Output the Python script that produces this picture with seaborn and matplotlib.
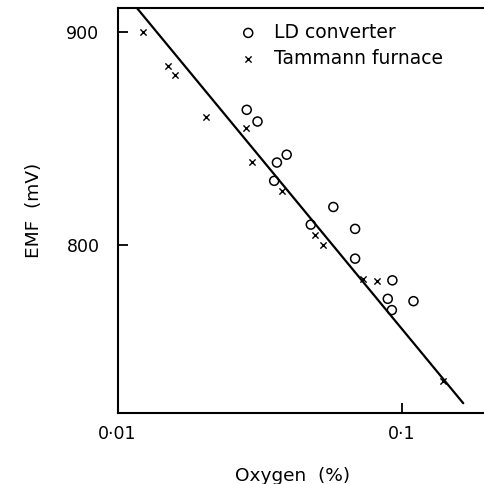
import numpy as np
import pandas as pd
import matplotlib
matplotlib.use('Agg')
import matplotlib.pyplot as plt
import matplotlib.ticker as mticker
import seaborn as sns

# LD converter (open circles)
ld_oxygen = [0.0285, 0.0311, 0.0364, 0.0394, 0.0356, 0.0575, 0.0479, 0.0686,
             0.0686, 0.0928, 0.0894, 0.1101, 0.0924]
ld_emf = [863.4, 857.9, 838.6, 842.3, 830.0, 817.7, 809.4, 807.4,
          793.4, 783.2, 774.5, 773.4, 769.2]

# Tammann furnace (crosses)
tf_oxygen = [0.0123, 0.0151, 0.0159, 0.0205, 0.0284, 0.0297, 0.0379, 0.0496,
             0.0530, 0.0734, 0.0818, 0.1396]
tf_emf = [900.0, 884.0, 879.8, 860.2, 854.8, 838.8, 825.0, 804.7,
          800.0, 784.0, 783.1, 735.8]

# fitted line end points
fit_oxygen = [0.0117, 0.1648]
fit_emf = [911.3, 725.4]

x_ticks = [0.01, 0.1]
x_ticklabels = ['0·01', '0·1']
y_ticks = [800, 900]

sns.set_style('ticks')
plt.rcParams['font.family'] = ['DejaVu Sans']
plt.rcParams.update({'text.color': 'black', 'axes.labelcolor': 'black',
                     'xtick.color': 'black', 'ytick.color': 'black',
                     'axes.edgecolor': 'black'})

ld = pd.DataFrame({'oxygen': ld_oxygen, 'emf': ld_emf})
tf = pd.DataFrame({'oxygen': tf_oxygen, 'emf': tf_emf})
fit = pd.DataFrame({'oxygen': fit_oxygen, 'emf': fit_emf})

fig = plt.figure(figsize=(4.84, 4.84), dpi=100)
ax = fig.add_axes([0.2428, 0.1467, 0.7572, 0.8368])

sns.lineplot(data=fit, x='oxygen', y='emf', color='black', linewidth=1.6, ax=ax)
sns.scatterplot(data=ld, x='oxygen', y='emf', marker='o', s=42,
                facecolor='none', edgecolor='black', linewidth=1.1,
                label='LD converter', ax=ax)
sns.scatterplot(data=tf, x='oxygen', y='emf', marker='x', s=20,
                color='black', linewidth=1.0,
                label='Tammann furnace', ax=ax)

ax.set_xscale('log')
ax.set_xlim(0.01, 0.195)
ax.set_ylim(720.8, 911.3)
ax.set_xticks(x_ticks)
ax.set_xticklabels(x_ticklabels)
ax.xaxis.set_minor_locator(mticker.NullLocator())
ax.set_yticks(y_ticks)
ax.yaxis.set_minor_locator(mticker.NullLocator())
ax.tick_params(direction='in', length=7, width=1.3, labelsize=12.5)
ax.tick_params(axis='x', pad=9)
ax.tick_params(axis='y', pad=13)

for side in ['left', 'bottom', 'top']:
    ax.spines[side].set_linewidth(1.5)
ax.spines['right'].set_visible(False)

ax.set_xlabel('Oxygen  (%)', fontsize=13.3)
ax.xaxis.set_label_coords(0.479, -0.133)
ax.set_ylabel('EMF  (mV)', fontsize=13.3, labelpad=17)

ax.legend(loc='upper left', bbox_to_anchor=(0.285, 1.005), frameon=False,
          fontsize=13.5, handlelength=1.0, handletextpad=0.9,
          labelspacing=0.38, scatterpoints=1, borderaxespad=0.5)

fig.savefig('out.png', dpi=100)
